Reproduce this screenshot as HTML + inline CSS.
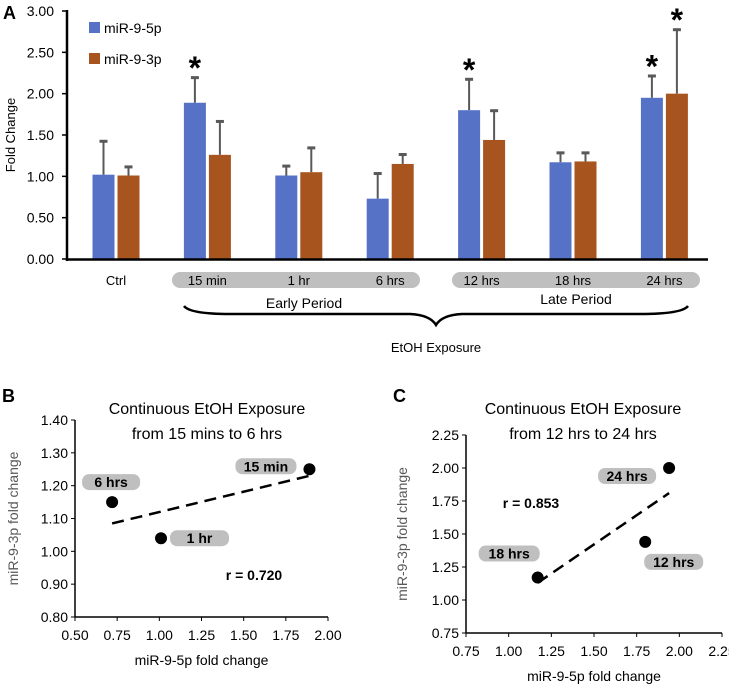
<!DOCTYPE html>
<html><head><meta charset="utf-8"><style>
body{margin:0;background:#fff;}
svg{display:block;font-family:"Liberation Sans",sans-serif;}
</style></head><body>
<svg id="fig" width="729" height="688" viewBox="0 0 729 688">
<g id="A"></g>
<g id="B"></g>
<g id="C"></g>
</svg>
<script>
const categories=["Ctrl","15 min","1 hr","6 hrs","12 hrs","18 hrs","24 hrs"];
const blueVals=[1.02,1.89,1.01,0.73,1.80,1.17,1.95];
const blueErr=[1.43,2.20,1.13,1.04,2.18,1.29,2.22];
const orangeVals=[1.01,1.26,1.05,1.15,1.44,1.18,2.00];
const orangeErr=[1.12,1.67,1.35,1.27,1.80,1.29,2.78];
const blueSig=[false,true,false,false,true,false,true];
const orangeSig=[false,false,false,false,false,false,true];
const yTicksA=[0,0.5,1,1.5,2,2.5,3];
const bX=[0.72,1.01,1.89], bY=[1.15,1.04,1.25], bLab=["6 hrs","1 hr","15 min"];
const bXT=[0.5,0.75,1,1.25,1.5,1.75,2], bYT=[0.8,0.9,1,1.1,1.2,1.3,1.4];
const bFit=[[0.72,1.085],[1.89,1.23]];
const cX=[1.17,1.80,1.94], cY=[1.17,1.44,2.00], cLab=["18 hrs","12 hrs","24 hrs"];
const cXT=[0.75,1,1.25,1.5,1.75,2,2.25], cYT=[0.75,1,1.25,1.5,1.75,2,2.25];
const cFit=[[1.17,1.13],[1.94,1.81]];

const NS="http://www.w3.org/2000/svg";
function mk(p,tag,at,txt){const e=document.createElementNS(NS,tag);for(const k in at)e.setAttribute(k,at[k]);if(txt!==undefined)e.textContent=txt;p.appendChild(e);return e;}

// Panel A
const A=document.getElementById('A');
const yA=v=>259-v*(248/3);
const gx=i=>116+i*91.4;
mk(A,'text',{x:3,y:19,'font-size':18,'font-weight':'bold'},'A');
yTicksA.forEach(t=>{const e=mk(A,'text',{x:54,y:yA(t)+5,'font-size':14,'text-anchor':'end'},t.toFixed(2));
mk(A,'line',{x1:62,x2:67,y1:yA(t),y2:yA(t),stroke:'#000','stroke-width':1.5});});
const yt=mk(A,'text',{transform:'translate(15,135) rotate(-90)','font-size':13,'text-anchor':'middle'},'Fold Change');
categories.forEach((c,i)=>{
 [[blueVals,blueErr,blueSig,'#5572C6',-12.5,'bar-mir-9-5p'],[orangeVals,orangeErr,orangeSig,'#A8541E',12.5,'bar-mir-9-3p']].forEach(([v,er,sg,col,off,nm])=>{
  const cx=gx(i)+off;
  mk(A,'line',{x1:cx,x2:cx,y1:yA(v[i]),y2:yA(er[i]),stroke:'#595959','stroke-width':2});
  mk(A,'rect',{x:cx-4,y:yA(er[i])-1,width:8,height:3,fill:'#595959'});
  const r=mk(A,'rect',{x:cx-11,y:yA(v[i]),width:22,height:yA(0)-yA(v[i]),fill:col});
  
  if(sg[i]){const s=mk(A,'text',{x:cx,y:yA(er[i])+2,'font-size':32,'font-weight':'bold','text-anchor':'middle'},'*');}
 });
});
mk(A,'line',{x1:67,x2:67,y1:10,y2:261,stroke:'#000','stroke-width':2.5});
mk(A,'line',{x1:66,x2:708,y1:259.5,y2:259.5,stroke:'#000','stroke-width':2.5});
const lg=[['#5572C6','miR-9-5p',22],['#A8541E','miR-9-3p',53]];
lg.forEach(([c,t,y])=>{const g=mk(A,'g',{});
 mk(g,'rect',{x:89,y:y,width:11,height:11,fill:c});mk(g,'text',{x:104,y:y+11,'font-size':14},t);});
mk(A,'rect',{x:172,y:272,width:248,height:16,rx:8,fill:'#BFBFBF'});
mk(A,'rect',{x:452,y:272,width:248,height:16,rx:8,fill:'#BFBFBF'});
categories.forEach((c,i)=>{const e=mk(A,'text',{x:gx(i),y:285,'font-size':13,'text-anchor':'middle'},c);});
mk(A,'text',{x:304,y:308,'font-size':14,'text-anchor':'middle'},'Early Period');
mk(A,'text',{x:576,y:304,'font-size':14,'text-anchor':'middle'},'Late Period');
mk(A,'path',{d:'M184 306 Q190 314 230 314 L410 314 Q430 315 436 325 Q442 315 462 314 L640 314 Q682 314 688 306',fill:'none',stroke:'#000','stroke-width':2.5});
mk(A,'text',{x:436,y:352,'font-size':13,'text-anchor':'middle'},'EtOH Exposure');

function scatter(G,o){
 const X=v=>o.x0+(v-o.xmin)/(o.xmax-o.xmin)*(o.x1-o.x0);
 const Y=v=>o.y0-(v-o.ymin)/(o.ymax-o.ymin)*(o.y0-o.y1);
 mk(G,'text',{x:o.lx,y:402,'font-size':18,'font-weight':'bold'},o.letter);
 mk(G,'text',{x:o.tcx,y:414,'font-size':16,'text-anchor':'middle'},'Continuous EtOH Exposure');
 mk(G,'text',{x:o.tcx,y:439,'font-size':16,'text-anchor':'middle'},o.sub);
 mk(G,'line',{x1:o.x0,x2:o.x0,y1:o.y1,y2:o.y0,stroke:'#000','stroke-width':1.5});
 mk(G,'line',{x1:o.x0,x2:o.x1,y1:o.y0,y2:o.y0,stroke:'#000','stroke-width':1.5});
 o.yt.forEach(t=>{mk(G,'line',{x1:o.x0-4,x2:o.x0,y1:Y(t),y2:Y(t),stroke:'#000'});const e=mk(G,'text',{x:o.x0-7,y:Y(t)+5,'font-size':14,'text-anchor':'end'},t.toFixed(2));});
 o.xt.forEach(t=>{mk(G,'line',{x1:X(t),x2:X(t),y1:o.y0,y2:o.y0+4,stroke:'#000'});const e=mk(G,'text',{x:X(t),y:o.y0+23,'font-size':14,'text-anchor':'middle'},t.toFixed(2));});
 mk(G,'text',{x:(o.x0+o.x1)/2,y:o.y0+48,'font-size':14,'text-anchor':'middle'},'miR-9-5p fold change');
 mk(G,'text',{transform:`translate(${o.ytx},${(o.y0+o.y1)/2}) rotate(-90)`,'font-size':14,'text-anchor':'middle',fill:'#595959'},'miR-9-3p fold change');
 mk(G,'line',{x1:X(o.fit[0][0]),y1:Y(o.fit[0][1]),x2:X(o.fit[1][0]),y2:Y(o.fit[1][1]),stroke:'#000','stroke-width':2.5,'stroke-dasharray':'12 7'});
 o.px.forEach((v,i)=>{const p=o.pill[i];mk(G,'rect',{x:X(v)+p[0],y:Y(o.py[i])+p[1],width:p[2],height:16,rx:7,fill:'#BFBFBF'});
  const t=mk(G,'text',{x:X(v)+p[0]+p[2]/2,y:Y(o.py[i])+p[1]+13,'font-size':14,'font-weight':'bold','text-anchor':'middle'},o.lab[i]);
  const c=mk(G,'circle',{cx:X(v),cy:Y(o.py[i]),r:6,fill:'#000'});});
 mk(G,'text',{x:o.rx,y:o.ry,'font-size':14,'font-weight':'bold','text-anchor':'middle'},o.r);
}
scatter(document.getElementById('B'),{letter:'B',lx:2,tcx:207,sub:'from 15 mins to 6 hrs',x0:75,x1:328,y0:617,y1:420,xmin:0.5,xmax:2,ymin:0.8,ymax:1.4,xt:bXT,yt:bYT,px:bX,py:bY,lab:bLab,fit:bFit,ytx:18,
 pill:[[-30,-28,58],[9,-8,59],[-74,-11,61]],r:'r = 0.720',rx:254,ry:580});
scatter(document.getElementById('C'),{letter:'C',lx:393,tcx:583,sub:'from 12 hrs to 24 hrs',x0:466,x1:722,y0:633,y1:435,xmin:0.75,xmax:2.25,ymin:0.75,ymax:2.25,xt:cXT,yt:cYT,px:cX,py:cY,lab:cLab,fit:cFit,ytx:407,
 pill:[[-59,-32,61],[-1,12,59],[-71,0,58]],r:'r = 0.853',rx:531,ry:508});
</script>
</body></html>
